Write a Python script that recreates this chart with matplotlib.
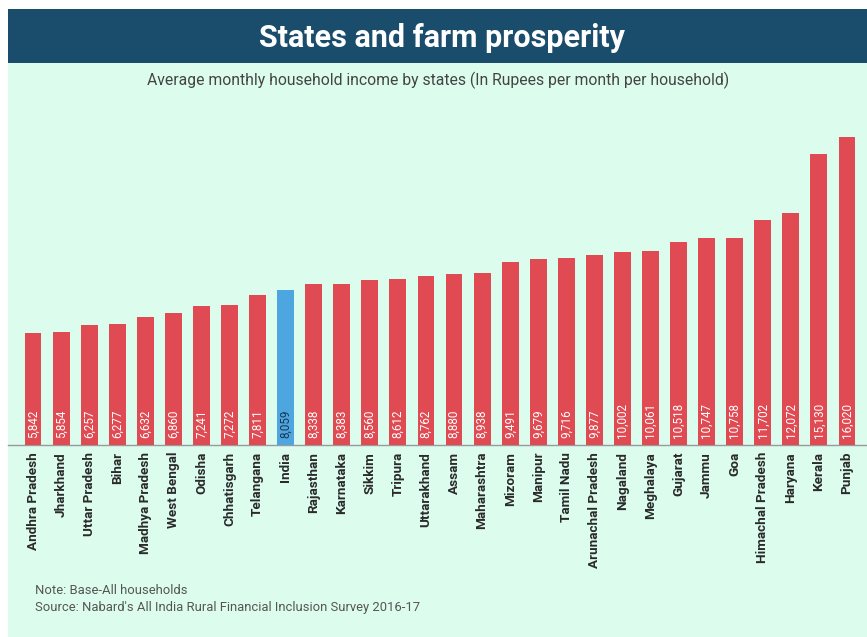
import matplotlib
matplotlib.use("Agg")
import matplotlib.pyplot as plt
from matplotlib.patches import Rectangle

states = ["Andhra Pradesh", "Jharkhand", "Uttar Pradesh", "Bihar", "Madhya Pradesh",
          "West Bengal", "Odisha", "Chhatisgarh", "Telangana", "India", "Rajasthan",
          "Karnataka", "Sikkim", "Tripura", "Uttarakhand", "Assam", "Maharashtra",
          "Mizoram", "Manipur", "Tamil Nadu", "Arunachal Pradesh", "Nagaland",
          "Meghalaya", "Gujarat", "Jammu", "Goa", "Himachal Pradesh", "Haryana",
          "Kerala", "Punjab"]
income = [5842, 5854, 6257, 6277, 6632, 6860, 7241, 7272, 7811, 8059, 8338, 8383,
          8560, 8612, 8762, 8880, 8938, 9491, 9679, 9716, 9877, 10002, 10061, 10518,
          10747, 10758, 11702, 12072, 15130, 16020]
highlight = "India"

W, H = 867, 637
BG = "#dcfcee"
BANNER = "#1a4c6b"
RED = "#e04a52"
BLUE = "#4ea6e0"

fig = plt.figure(figsize=(W / 100, H / 100), dpi=100, facecolor="white")

def fx(px):
    return px / W

def fy(py):
    return 1 - py / H

# background panel and title banner
fig.patches.append(Rectangle((fx(8), 0), 1 - fx(8), fy(63), transform=fig.transFigure,
                             facecolor=BG, edgecolor="none", zorder=-2))
fig.patches.append(Rectangle((fx(8), fy(63)), 1 - fx(8), fy(9) - fy(63),
                             transform=fig.transFigure, facecolor=BANNER,
                             edgecolor="none", zorder=-2))
fig.text(fx(442), fy(38), "States and farm prosperity", color="white",
         fontsize=22, fontweight="bold", family=["Liberation Sans Narrow", "Roboto"],
         ha="center", va="center")
fig.text(fx(438), fy(80),
         "Average monthly household income by states (In Rupees per month per household)",
         color="#444444", fontsize=11.3, family="Roboto", ha="center", va="center")

ax_left, ax_right = 19, 861
ax_top, ax_bottom = 110, 445
ax = fig.add_axes([fx(ax_left), fy(ax_bottom), fx(ax_right - ax_left), fy(ax_top) - fy(ax_bottom)])
ax.set_facecolor("none")
ax.set_zorder(2)

x = list(range(len(states)))
colors = [BLUE if s == highlight else RED for s in states]
ax.bar(x, income, width=0.6, color=colors, zorder=2)
ax.set_xlim(-0.5, len(states) - 0.5)
ax.set_ylim(0, 17400)

for xi, (s, v) in enumerate(zip(states, income)):
    ax.text(xi, 380, f"{v:,}", rotation=90, ha="center", va="bottom",
            fontsize=8.4, family="Roboto",
            color="#1a3550" if s == highlight else "white", zorder=3)

ax.set_xticks(x)
ax.set_xticklabels(states, rotation=90, fontsize=9.7, family="Roboto",
                   fontweight="bold", color="#2a2a2a")
ax.tick_params(axis="x", length=0, pad=5)
ax.set_yticks([])
for side in ["top", "right", "left", "bottom"]:
    ax.spines[side].set_visible(False)

# baseline across the panel
fig.lines.append(plt.Line2D([fx(8), 1], [fy(445), fy(445)], transform=fig.transFigure,
                            color="#9a9a9a", linewidth=1.0, zorder=-1))

fig.text(fx(35), fy(590), "Note: Base-All households", color="#555555",
         fontsize=9.4, family="Roboto", ha="left", va="center")
fig.text(fx(35), fy(608), "Source: Nabard's All India Rural Financial Inclusion Survey 2016-17",
         color="#555555", fontsize=9.4, family="Roboto", ha="left", va="center")

fig.savefig("out.png", dpi=100, facecolor="white")
